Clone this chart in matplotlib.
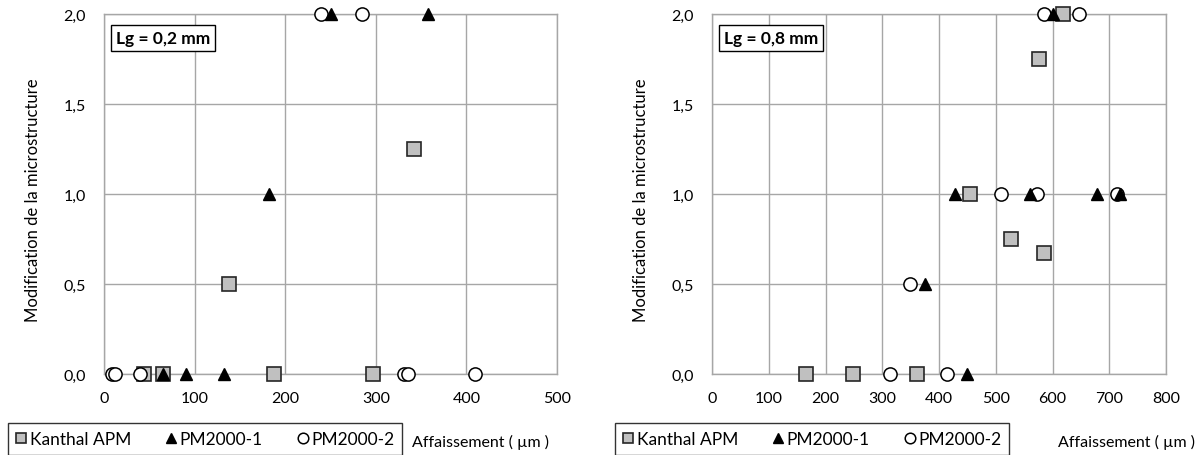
import matplotlib
matplotlib.use('Agg')
import matplotlib.pyplot as plt
from matplotlib.ticker import FuncFormatter

plt.rcParams['font.family'] = ['Lato', 'DejaVu Sans']

# Lg = 0,2 mm
kanthal_x_02 = [44, 65, 138, 188, 297, 342]
kanthal_y_02 = [0, 0, 0.5, 0, 0, 1.25]
pm1_x_02 = [65, 90, 132, 182, 250, 358]
pm1_y_02 = [0, 0, 0, 1, 2, 2]
pm2_x_02 = [9, 12, 40, 240, 285, 331, 336, 409]
pm2_y_02 = [0, 0, 0, 2, 2, 0, 0, 0]

# Lg = 0,8 mm
kanthal_x_08 = [166, 249, 361, 455, 527, 585, 576, 619]
kanthal_y_08 = [0, 0, 0, 1, 0.75, 0.67, 1.75, 2]
pm1_x_08 = [449, 376, 429, 561, 678, 719, 601]
pm1_y_08 = [0, 0.5, 1, 1, 1, 1, 2]
pm2_x_08 = [314, 414, 349, 510, 573, 713, 585, 646]
pm2_y_08 = [0, 0, 0.5, 1, 1, 1, 2, 2]

series_names = ['Kanthal APM', 'PM2000-1', 'PM2000-2']
grid_col = '#a6a6a6'
W, H = 1202, 456

fig = plt.figure(figsize=(W / 100, H / 100), dpi=100)


def make_panel(left_px, right_px, xmax, lg_text, kx, ky, p1x, p1y, p2x, p2y, leg_left, ylab_x, xlab_x):
    ax = fig.add_axes([left_px / W, (H - 375) / H, (right_px - left_px) / W, 360 / H])
    ax.set_xlim(0, xmax)
    ax.set_ylim(0, 2)
    ax.set_xticks(range(0, xmax + 1, 100))
    ax.set_yticks([0, 0.5, 1, 1.5, 2])
    ax.yaxis.set_major_formatter(FuncFormatter(lambda v, p: f"{v:.1f}".replace('.', ',')))
    ax.grid(True, color=grid_col, lw=1)
    ax.set_axisbelow(True)
    for s in ax.spines.values():
        s.set_color(grid_col)
        s.set_linewidth(1)
    ax.tick_params(length=0, labelsize=11.5, colors='black')
    ax.tick_params(axis='x', pad=12)
    ax.tick_params(axis='y', pad=13)

    h1, = ax.plot(kx, ky, 's', ms=9.5, mfc='#c0c0c0', mec='#262626', mew=1.2, clip_on=False, zorder=3,
                  label=series_names[0])
    h3, = ax.plot(p2x, p2y, 'o', ms=9.5, mfc='white', mec='black', mew=1.1, clip_on=False, zorder=4,
                  label=series_names[2])
    h2, = ax.plot(p1x, p1y, '^', ms=8.5, mfc='black', mec='black', clip_on=False, zorder=5,
                  label=series_names[1])

    ax.text(0.026, 0.955, lg_text, transform=ax.transAxes, fontsize=12.5, fontweight='bold',
            va='top', ha='left', zorder=6,
            bbox=dict(boxstyle='square,pad=0.3', fc='white', ec='black', lw=1))

    fig.text(ylab_x / W, (H - 200) / H, 'Modification de la microstructure', fontsize=12,
             rotation=90, ha='center', va='center')

    leg = fig.legend([h1, h2, h3], series_names, ncol=3, loc='upper left',
                     bbox_to_anchor=(leg_left / W, (H - 424) / H), bbox_transform=fig.transFigure,
                     frameon=True, fancybox=False, edgecolor='black', fontsize=12.5,
                     markerscale=0.8, handlelength=0.6, handletextpad=0.2, columnspacing=2.0,
                     borderpad=0.45, borderaxespad=0)
    leg.get_frame().set_linewidth(1)

    fig.text(xlab_x / W, (H - 442) / H, 'Affaissement ( µm )', fontsize=11.5, ha='center', va='center')
    return ax


make_panel(104, 557, 500, 'Lg = 0,2 mm', kanthal_x_02, kanthal_y_02, pm1_x_02, pm1_y_02,
           pm2_x_02, pm2_y_02, 8, 33, 481)
make_panel(712, 1166, 800, 'Lg = 0,8 mm', kanthal_x_08, kanthal_y_08, pm1_x_08, pm1_y_08,
           pm2_x_08, pm2_y_08, 615, 641, 1127)

fig.savefig('out.png', dpi=100)
